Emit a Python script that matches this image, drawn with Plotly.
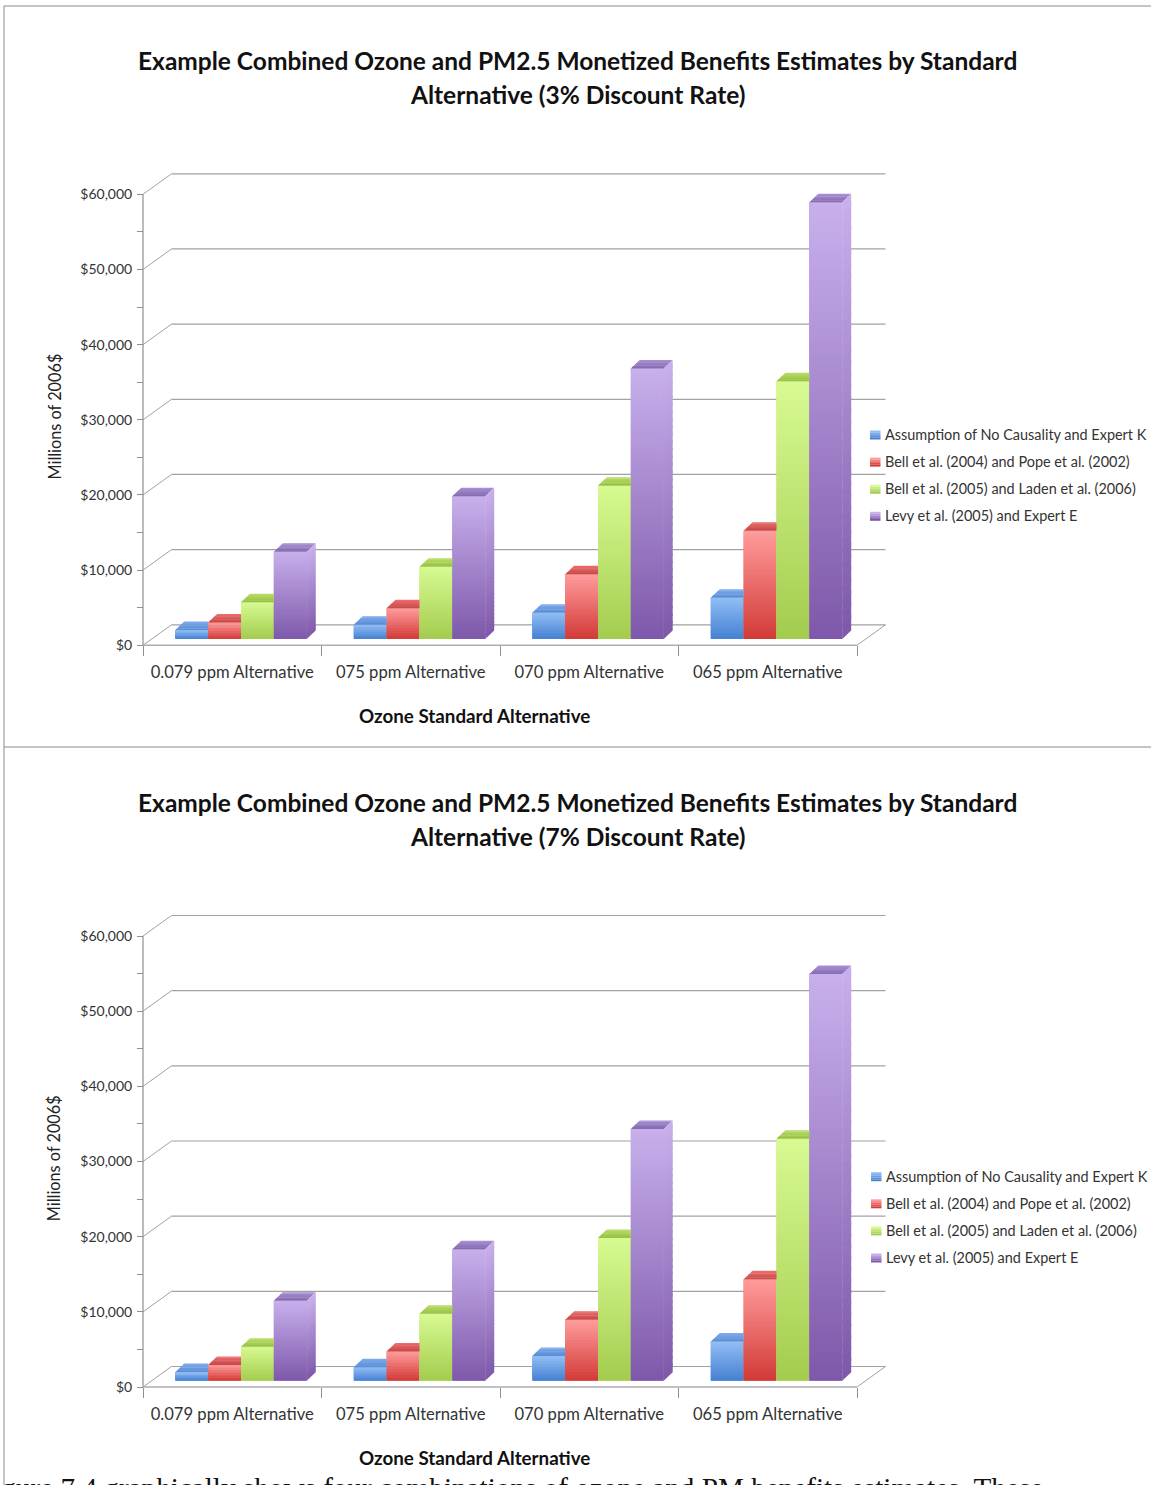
import math
import plotly.graph_objects as go

# Benefit estimates in millions of 2006 dollars
ALTERNATIVES = ["0.079 ppm Alternative", "075 ppm Alternative", "070 ppm Alternative", "065 ppm Alternative"]
SERIES_NAMES = [
    "Assumption of No Causality and Expert K",
    "Bell et al. (2004) and Pope et al. (2002)",
    "Bell et al. (2005) and Laden et al. (2006)",
    "Levy et al. (2005) and Expert E",
]
RATE_3_NO_CAUSALITY = [1200, 1900, 3500, 5500]
RATE_3_BELL_POPE = [2200, 4100, 8600, 14400]
RATE_3_BELL_LADEN = [4900, 9600, 20400, 34300]
RATE_3_LEVY = [11600, 19000, 36000, 58100]
RATE_7_NO_CAUSALITY = [1150, 1800, 3300, 5200]
RATE_7_BELL_POPE = [2100, 3900, 8100, 13500]
RATE_7_BELL_LADEN = [4500, 8900, 19000, 32200]
RATE_7_LEVY = [10650, 17500, 33500, 54100]

TITLE_LINES_3 = ["Example Combined Ozone and PM2.5 Monetized Benefits Estimates by Standard",
                 "Alternative (3% Discount Rate)"]
TITLE_LINES_7 = ["Example Combined Ozone and PM2.5 Monetized Benefits Estimates by Standard",
                 "Alternative (7% Discount Rate)"]
VALUE_TICKS = [0, 10000, 20000, 30000, 40000, 50000, 60000]
VALUE_MINOR_TICKS = [5000, 15000, 25000, 35000, 45000, 55000]
VALUE_LABELS = ["$0", "$10,000", "$20,000", "$30,000", "$40,000", "$50,000", "$60,000"]
CAPTION = "Figure 7.4 graphically shows four combinations of ozone and PM benefits estimates. These"

# Face shading: front top, front bottom, cap back edge, cap front edge
SHADES = [
    ((146, 190, 245), (68, 128, 210), (128, 172, 238), (88, 140, 212)),
    ((255, 156, 156), (210, 58, 54), (236, 112, 110), (198, 70, 70)),
    ((216, 250, 146), (163, 204, 78), (186, 222, 104), (150, 192, 66)),
    ((200, 176, 236), (126, 88, 170), (170, 144, 214), (130, 104, 172)),
]

W, H = 1151, 1485
FONT = "Lato"
PX_PER_CATEGORY = 178.5
PX_PER_DOLLAR = 451 / 60000
LEFT_PX = 143

# Wall depth and bar placement, all in axis units
WALL_DX, WALL_DY = 28.5 / PX_PER_CATEGORY, 20.5 / PX_PER_DOLLAR
BAR_BASE = 6.3 / PX_PER_DOLLAR
CAP_DX, CAP_DY = 9 / PX_PER_CATEGORY, 8.5 / PX_PER_DOLLAR
GROUP_INSET = 32.3 / PX_PER_CATEGORY
BAR_WIDTH = 32.85 / PX_PER_CATEGORY
SLICE_OVERLAP = 1.5 / PX_PER_DOLLAR

X_RANGE = [-4 / PX_PER_CATEGORY, 4.2]
Y_RANGE = [-4 / PX_PER_DOLLAR, 63400]


def mix(a, b, t):
    return "rgb(%d,%d,%d)" % tuple(round(a[i] + (b[i] - a[i]) * t) for i in range(3))


fig = go.Figure()
shapes, annotations = [], []


def text(x, y, s, size, bold=False, color="#262626", anchor="center", family=FONT, angle=0):
    annotations.append(dict(
        xref="paper", yref="paper", x=x / W, y=1 - y / H, text=f"<b>{s}</b>" if bold else s,
        showarrow=False, xanchor=anchor, yanchor="middle", textangle=angle,
        font=dict(family=family, size=size, color=color), borderpad=0,
    ))


def gradient_bar_traces(series, xaxis, yaxis):
    """Front faces are bars; thin stacked slices give them their vertical shading."""
    for s, values in enumerate(series):
        light, dark = SHADES[s][:2]
        centers = [g + GROUP_INSET + BAR_WIDTH * (s + 0.5) for g in range(4)]
        fig.add_trace(go.Bar(
            x=centers, y=values, base=[BAR_BASE] * 4, width=[BAR_WIDTH] * 4, name=SERIES_NAMES[s],
            marker=dict(color=mix(light, dark, 0.5), line=dict(width=0)),
            xaxis=xaxis, yaxis=yaxis, showlegend=False, hoverinfo="skip",
        ))
        xs, bases, heights, colors = [], [], [], []
        for cx, v in zip(centers, values):
            n = max(6, math.ceil(v / 400))
            for k in range(n):
                # Upper slices are drawn later, so each one may run under its neighbour
                h = v / n if k == n - 1 else min(v / n + SLICE_OVERLAP, v - v * k / n)
                xs.append(cx)
                bases.append(BAR_BASE + v * k / n)
                heights.append(h)
                colors.append(mix(dark, light, (k + 0.5) / n))
        fig.add_trace(go.Bar(
            x=xs, y=heights, base=bases, width=[BAR_WIDTH] * len(xs),
            marker=dict(color=colors, line=dict(width=0)),
            xaxis=xaxis, yaxis=yaxis, showlegend=False, hoverinfo="skip",
        ))


def poly_trace(xs, ys, color, xaxis, yaxis):
    fig.add_trace(go.Scatter(
        x=xs, y=ys, mode="lines", fill="toself", fillcolor=color, line=dict(width=0),
        xaxis=xaxis, yaxis=yaxis, showlegend=False, hoverinfo="skip",
    ))


def cap_and_side_traces(series, xaxis, yaxis):
    """Top faces stop at the neighbouring taller bar; only the last bar shows a side."""
    last = len(series) - 1
    cap_levels = 6
    for s, values in enumerate(series):
        back_col, front_col = SHADES[s][2:]
        for lvl in range(cap_levels):
            f0, f1 = lvl / cap_levels, min(1, (lvl + 1.3) / cap_levels)
            xs, ys = [], []
            for g, v in enumerate(values):
                x0 = g + GROUP_INSET + BAR_WIDTH * s
                x1 = x0 + BAR_WIDTH
                top = BAR_BASE + v
                right0 = x1 + (CAP_DX * f0 if s == last else 0)
                right1 = x1 + (CAP_DX * f1 if s == last else 0)
                xs += [x0 + CAP_DX * f0, x0 + CAP_DX * f1, right1, right0, x0 + CAP_DX * f0, None]
                ys += [top + CAP_DY * f0, top + CAP_DY * f1, top + CAP_DY * f1, top + CAP_DY * f0,
                       top + CAP_DY * f0, None]
            poly_trace(xs, ys, mix(front_col, back_col, (lvl + 0.5) / cap_levels), xaxis, yaxis)

    light, dark = SHADES[last][:2]
    levels = 36
    for lvl in range(levels):
        xs, ys = [], []
        for g, v in enumerate(series[last]):
            x1 = g + GROUP_INSET + BAR_WIDTH * (last + 1)
            lo = BAR_BASE + v * lvl / levels
            hi = min(BAR_BASE + v * (lvl + 1.3) / levels, BAR_BASE + v)
            xs += [x1, x1 + CAP_DX, x1 + CAP_DX, x1, x1, None]
            ys += [lo, lo + CAP_DY, hi + CAP_DY, hi, lo, None]
        poly_trace(xs, ys, mix(dark, light, (lvl + 0.5) / levels), xaxis, yaxis)


def chart(series, title_lines, dy, xname, yname, legend_shift):
    xaxis, yaxis = xname, yname
    xkey, ykey = "xaxis" + xname[1:], "yaxis" + yname[1:]
    zero_px = 645.3 + dy
    left_dom = (LEFT_PX + X_RANGE[0] * PX_PER_CATEGORY) / W
    right_dom = (LEFT_PX + X_RANGE[1] * PX_PER_CATEGORY) / W
    bottom_dom = 1 - (zero_px - Y_RANGE[0] * PX_PER_DOLLAR) / H
    top_dom = 1 - (zero_px - Y_RANGE[1] * PX_PER_DOLLAR) / H

    fig.update_layout({
        xkey: dict(
            domain=[left_dom, right_dom], range=X_RANGE, anchor="free",
            position=1 - zero_px / H, showgrid=False, zeroline=False, showline=False,
            tickmode="array", tickvals=[g + 0.5 for g in range(4)], ticktext=ALTERNATIVES,
            ticks="", ticklabelstandoff=15, tickfont=dict(family=FONT, size=16.6, color="#333333"),
            minor=dict(tickmode="array", tickvals=[0, 1, 2, 3, 4], ticks="outside", ticklen=10,
                       tickcolor="#8f8f8f", tickwidth=1, showgrid=False),
        ),
        ykey: dict(
            domain=[bottom_dom, top_dom], range=Y_RANGE, anchor="free",
            position=LEFT_PX / W, showgrid=False, zeroline=False, showline=False,
            tickmode="array", tickvals=VALUE_TICKS, ticktext=VALUE_LABELS,
            ticks="outside", ticklen=6, tickcolor="#8f8f8f", tickwidth=1, ticklabelstandoff=2,
            tickfont=dict(family=FONT, size=14, color="#333333"),
            minor=dict(tickmode="array", tickvals=VALUE_MINOR_TICKS, ticks="outside", ticklen=6,
                       tickcolor="#8f8f8f", tickwidth=1, showgrid=False),
        ),
    })

    def seg(x0, y0, x1, y1, color="#a2a2a2", width=1.2):
        shapes.append(dict(type="line", xref=xaxis, yref=yaxis, x0=x0, y0=y0, x1=x1, y1=y1,
                           layer="below", line=dict(color=color, width=width)))

    # Back wall grid, the slanted side wall and the floor
    for v in VALUE_TICKS:
        seg(WALL_DX, v + WALL_DY, 4 + WALL_DX, v + WALL_DY)
        seg(0, v, WALL_DX, v + WALL_DY, "#a2a2a2", 1)
    seg(4, 0, 4 + WALL_DX, WALL_DY, "#a2a2a2", 1)
    seg(0, 0, 0, 60000, "#8f8f8f", 1.2)
    seg(0, 0, 4, 0, "#adadad", 1.6)

    gradient_bar_traces(series, xaxis, yaxis)
    cap_and_side_traces(series, xaxis, yaxis)

    text(578, 60.5 + dy, title_lines[0], 24.5, bold=True, color="#111111")
    text(578, 94.5 + dy, title_lines[1], 24.5, bold=True, color="#111111")
    text(474, 715.5 + dy, "Ozone Standard Alternative", 18.8, bold=True, color="#111111")
    text(53.5, 417 + dy, "Millions of 2006$", 16.3, color="#222222", angle=-90)

    # Key on the right of the plot
    for i, name in enumerate(SERIES_NAMES):
        light, dark = SHADES[i][:2]
        cy = 435 + dy + i * 27.1
        x0 = 870 + legend_shift
        stripes = 5
        for k in range(stripes):
            shapes.append(dict(
                type="rect", xref="paper", yref="paper",
                x0=x0 / W, x1=(x0 + 10.5) / W,
                y0=1 - (cy - 4.5 + 9 * k / stripes) / H, y1=1 - (cy - 4.5 + 9 * (k + 1) / stripes) / H,
                fillcolor=mix(light, dark, k / (stripes - 1)), line=dict(width=0), layer="above",
            ))
        text(884 + legend_shift, cy - 0.7, name, 14.45, anchor="left", color="#333333")


chart([RATE_3_NO_CAUSALITY, RATE_3_BELL_POPE, RATE_3_BELL_LADEN, RATE_3_LEVY], TITLE_LINES_3, 0, "x", "y", 0)
chart([RATE_7_NO_CAUSALITY, RATE_7_BELL_POPE, RATE_7_BELL_LADEN, RATE_7_LEVY], TITLE_LINES_7, 741.7, "x2", "y2", 1)

# Page rules framing the two charts
for x0, y0, x1, y1 in [(4, 6, W, 6), (4, 747, W, 747), (4, 6, 4, H)]:
    shapes.append(dict(type="line", xref="paper", yref="paper",
                       x0=x0 / W, x1=x1 / W, y0=1 - y0 / H, y1=1 - y1 / H,
                       line=dict(color="#8a8a8a", width=1)))

annotations.append(dict(
    xref="paper", yref="paper", x=-25 / W, y=1 - 1488 / H, text=CAPTION, showarrow=False,
    xanchor="left", yanchor="middle", font=dict(family="Liberation Serif", size=29.2, color="#111111"),
))

fig.update_layout(
    width=W, height=H, autosize=False,
    margin=dict(l=0, r=0, t=0, b=0, pad=0, autoexpand=False),
    paper_bgcolor="white", plot_bgcolor="white", barmode="overlay", showlegend=False,
    shapes=shapes, annotations=annotations,
)
fig.write_html("out.html", config={"displayModeBar": False})
